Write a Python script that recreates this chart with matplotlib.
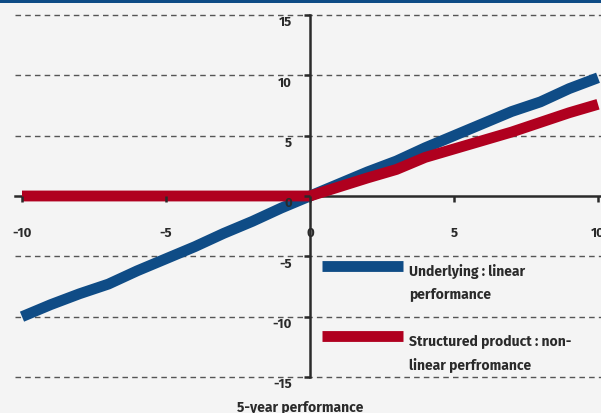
import matplotlib
matplotlib.use("Agg")
import matplotlib.pyplot as plt
from matplotlib.transforms import ScaledTranslation
from matplotlib.patches import Rectangle

# ---- data ----
x_values = [-10, -9, -8, -7, -6, -5, -4, -3, -2, -1, 0, 1, 2, 3, 4, 5, 6, 7, 8, 9, 10]
underlying = [-10.0, -9.0, -8.1, -7.3, -6.2, -5.2, -4.2, -3.1, -2.1, -1.0, 0.0,
              1.0, 2.0, 2.9, 4.0, 5.0, 6.0, 7.0, 7.8, 8.9, 9.8]
structured = [0, 0, 0, 0, 0, 0, 0, 0, 0, 0, 0,
              0.75, 1.5, 2.2, 3.2, 3.9, 4.6, 5.3, 6.1, 6.9, 7.6]
x_ticks = [-10, -5, 0, 5, 10]
y_ticks = [-15, -10, -5, 0, 5, 10, 15]
grid_levels = [-15, -10, -5, 5, 10, 15]
label_underlying = "Underlying : linear\nperformance"
label_structured = "Structured product : non-\nlinear perfromance"
x_title = "5-year performance"

BLUE = "#0f4c86"
RED = "#b0001f"
BG = "#f4f4f4"
INK = "#2a2a2a"

plt.rcParams['font.family'] = ['Fira Sans', 'Lato', 'DejaVu Sans']
plt.rcParams['font.weight'] = 'bold'

fig = plt.figure(figsize=(6.01, 4.14), dpi=100, facecolor=BG)
ax = fig.add_axes([15/601, 36/414, 586/601, 362/414])
ax.set_facecolor(BG)
ax.set_xlim(-10.243, 10.104)
ax.set_ylim(-15, 15)

for g in grid_levels:
    ax.axhline(g, color="#555555", lw=1.0, ls=(0, (4, 3)), zorder=1, clip_on=False)

ax.plot(x_values, underlying, color=BLUE, lw=7.8, solid_capstyle='butt',
        solid_joinstyle='round', zorder=3, label=label_underlying)
ax.plot(x_values, structured, color=RED, lw=7.8, solid_capstyle='butt',
        solid_joinstyle='round', zorder=3.1, label=label_structured)

for s in ['right', 'top']:
    ax.spines[s].set_visible(False)
ax.spines['left'].set_position(('data', 0))
ax.spines['bottom'].set_position(('data', 0))
for s in ['left', 'bottom']:
    ax.spines[s].set_color(INK)
    ax.spines[s].set_linewidth(1.8)
    ax.spines[s].set_zorder(2.5)

ax.set_xticks(x_ticks)
ax.set_yticks(y_ticks)
ax.set_xticklabels([str(v) for v in x_ticks])
ax.set_yticklabels([str(v) for v in y_ticks])
ax.tick_params(axis='y', direction='out', length=4, width=1.8, color=INK,
               labelsize=9.5, labelcolor=INK, pad=9)
ax.tick_params(axis='x', direction='out', length=4, width=1.8, color=INK,
               labelsize=9.5, labelcolor=INK, pad=18)
for lab in ax.get_yticklabels():
    lab.set_fontweight('bold')
    lab.set_transform(lab.get_transform() + ScaledTranslation(0, -4/72, fig.dpi_scale_trans))
for lab in ax.get_xticklabels():
    lab.set_fontweight('bold')
ax.yaxis.set_zorder(4)
ax.xaxis.set_zorder(4)

leg = ax.legend(loc='upper left', bbox_to_anchor=(322/601, 1 - 264/414),
                bbox_transform=fig.transFigure, frameon=False,
                handlelength=5.8, handletextpad=0.45, labelspacing=2.4,
                prop={'size': 10, 'weight': 'bold'}, borderaxespad=0, borderpad=0)
for t in leg.get_texts():
    t.set_color(INK)
    t.set_linespacing(1.7)
for h in leg.get_lines():
    h.set_linewidth(7.8)
    h.set_solid_capstyle('butt')
    h.set_transform(h.get_transform() + ScaledTranslation(0, 12/72, fig.dpi_scale_trans))

fig.text(300/601, 1 - 408/414, x_title, ha='center', va='center',
         fontsize=10, fontweight='bold', color=INK)

fig.add_artist(Rectangle((0, 1 - 4/414), 1, 4/414, transform=fig.transFigure,
                         facecolor=BLUE, edgecolor='none'))

fig.savefig("out.png", dpi=100, facecolor=BG)
